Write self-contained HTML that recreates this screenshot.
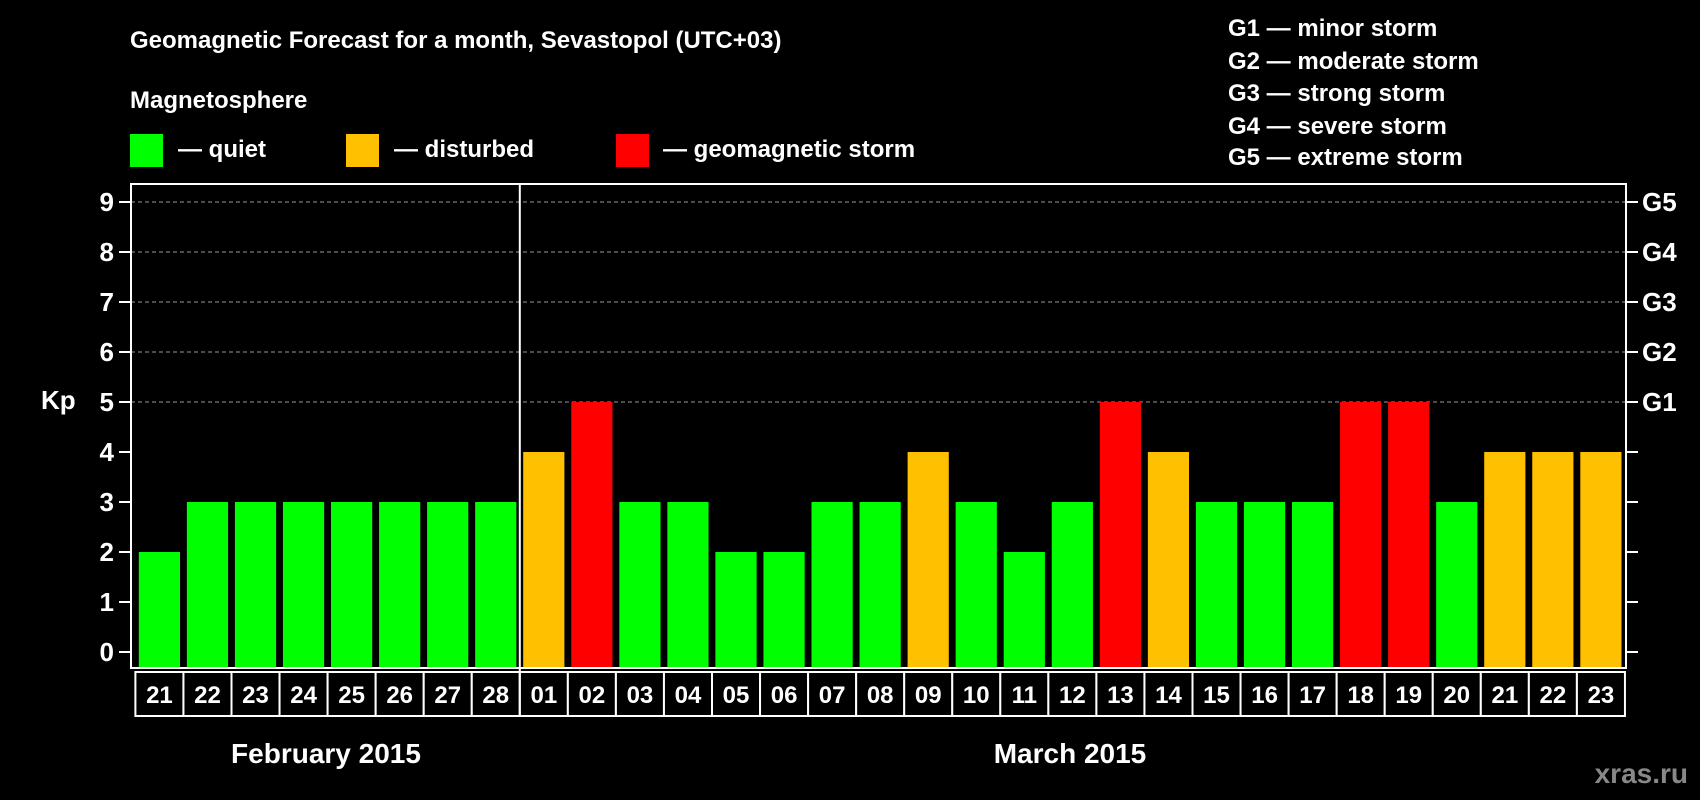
<!DOCTYPE html>
<html><head><meta charset="utf-8">
<style>
html,body{margin:0;padding:0;background:#000;}
svg{display:block;font-family:"Liberation Sans",Arial,sans-serif;font-weight:bold;}
</style></head>
<body>
<svg id="chart" width="1700" height="800" viewBox="0 0 1700 800" xmlns="http://www.w3.org/2000/svg">
<rect x="0" y="0" width="1700" height="800" fill="#000"/>
<text x="130" y="48" fill="#fff" font-size="24">Geomagnetic Forecast for a month, Sevastopol (UTC+03)</text>
<text x="130" y="108" fill="#fff" font-size="24">Magnetosphere</text>
<g>
<rect x="130" y="134" width="33" height="33" fill="#00ff00"/>
<text x="178" y="157" fill="#fff" font-size="24">— quiet</text></g>
<g>
<rect x="346" y="134" width="33" height="33" fill="#ffc000"/>
<text x="394" y="157" fill="#fff" font-size="24">— disturbed</text></g>
<g>
<rect x="616" y="134" width="33" height="33" fill="#ff0000"/>
<text x="663" y="157" fill="#fff" font-size="24">— geomagnetic storm</text></g>
<g fill="#fff" font-size="24">
<text x="1228" y="36">G1 — minor storm</text>
<text x="1228" y="69">G2 — moderate storm</text>
<text x="1228" y="101">G3 — strong storm</text>
<text x="1228" y="134">G4 — severe storm</text>
<text x="1228" y="165">G5 — extreme storm</text>
</g>
<text x="41" y="409" fill="#fff" font-size="26">Kp</text>
<text x="326" y="763" fill="#fff" font-size="28" text-anchor="middle">February 2015</text>
<text x="1070" y="763" fill="#fff" font-size="28" text-anchor="middle">March 2015</text>
<text x="1688" y="783" fill="#888" font-size="28" text-anchor="end">xras.ru</text>
<g id="plot"></g>
</svg>
<script>
const days = ["21","22","23","24","25","26","27","28","01","02","03","04","05","06","07","08","09","10","11","12","13","14","15","16","17","18","19","20","21","22","23"];
const kpValues = [2,3,3,3,3,3,3,3,4,5,3,3,2,2,3,3,4,3,2,3,5,4,3,3,3,5,5,3,4,4,4];
const yTicks = [0,1,2,3,4,5,6,7,8,9];
const gLabels = ["G1","G2","G3","G4","G5"];

const NS = "http://www.w3.org/2000/svg";
const plot = document.getElementById('plot');
const L = 131, R = 1626, T = 184, B = 668;
const y0 = 652, unit = 50;
function yScale(v){ return y0 - v*unit; }
const x0 = 138.8, pitch = 48.05, bw = 41.2;
function xScale(i){ return x0 + i*pitch; }
function mk(tag, attrs){ const e = document.createElementNS(NS, tag); for (const k in attrs) e.setAttribute(k, attrs[k]); plot.appendChild(e); return e; }
function color(v){ return v >= 5 ? "#ff0000" : (v >= 4 ? "#ffc000" : "#00ff00"); }

yTicks.forEach(v => {
  const y = yScale(v);
  if (v >= 5) {
    const g = mk('line', {x1:L, x2:R, y1:y, y2:y, stroke:'#999', 'stroke-width':1, 'stroke-dasharray':'4,3'});
    
    
  }
  const t = mk('line', {x1:L-12, x2:L, y1:y, y2:y, stroke:'#fff', 'stroke-width':2});
  
  
  const t2 = mk('line', {x1:R, x2:R+12, y1:y, y2:y, stroke:'#fff', 'stroke-width':2});
  
  
  const lab = mk('text', {x:L-17, y:y+9, fill:'#fff', 'font-size':26, 'text-anchor':'end'});
  lab.textContent = v;
  
  
});
gLabels.forEach((g, i) => {
  const lab = mk('text', {x:R+16, y:yScale(5+i)+9, fill:'#fff', 'font-size':26});
  lab.textContent = g;
  
  
});
kpValues.forEach((v, i) => {
  const b = mk('rect', {x:xScale(i), y:yScale(v), width:bw, height:B - yScale(v), fill:color(v)});
  
  
});
const frame = mk('rect', {x:L, y:T, width:R-L, height:B-T, fill:'none', stroke:'#fff', 'stroke-width':2});


days.forEach((d, i) => {
  const bx = xScale(i) - 3.4;
  const box = mk('rect', {x:bx, y:672, width:pitch, height:44, fill:'#000', stroke:'#fff', 'stroke-width':2});
  
  
  const t = mk('text', {x:bx + pitch/2, y:703, fill:'#fff', 'font-size':24, 'text-anchor':'middle'});
  t.textContent = d;
  
  
});
const sepX = xScale(days.indexOf("01")) - 3.4;
const sep = mk('line', {x1:sepX, x2:sepX, y1:T, y2:716, stroke:'#fff', 'stroke-width':2});


</script>
</body></html>
